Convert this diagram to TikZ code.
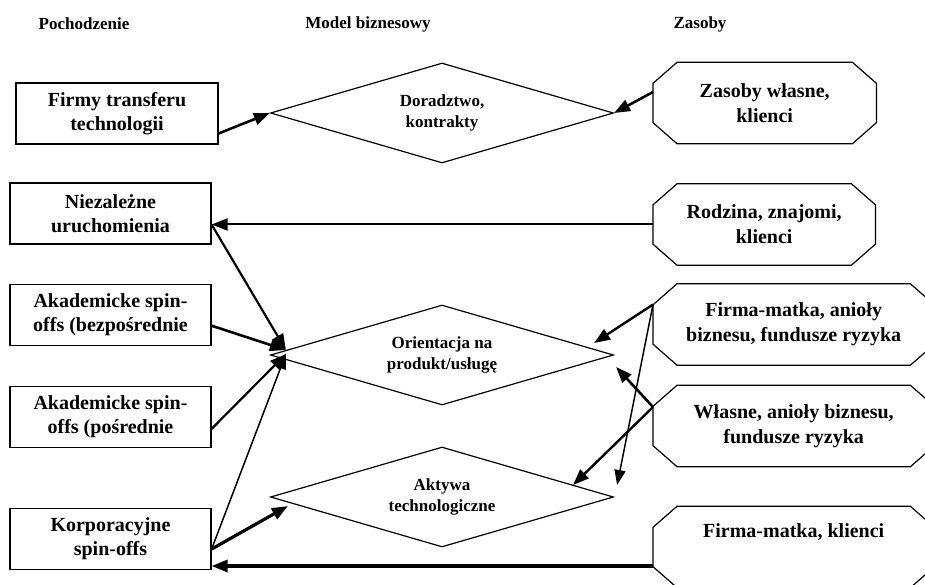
\documentclass[tikz,border=0pt]{standalone}
\usepackage{fontspec}
\setmainfont{Liberation Serif}
\usetikzlibrary{shapes.geometric,arrows.meta,positioning}

% octagonal outline round a resource node
\newcommand\chamferbox[1]{%
  \draw[line width=1.2pt] ([xshift=24pt]#1.north west) -- ([xshift=-24pt]#1.north east)
    -- ([yshift=-21pt]#1.north east) -- ([yshift=21pt]#1.south east)
    -- ([xshift=-24pt]#1.south east) -- ([xshift=24pt]#1.south west)
    -- ([yshift=21pt]#1.south west) -- ([yshift=-21pt]#1.north west) -- cycle;}

\begin{document}
\begin{tikzpicture}[x=1pt, y=-1pt, node distance=39pt,
        header/.style={font=\fontsize{17}{20}\selectfont\bfseries},
        origin/.style={rectangle, draw, line width=1.2pt, minimum width=201pt, minimum height=61pt, inner sep=0pt, align=center, font=\fontsize{20}{24}\selectfont\bfseries},
        model/.style={diamond, aspect=3.43, draw, line width=1.2pt, minimum width=343pt, minimum height=100pt, inner sep=0pt, align=center, font=\fontsize{17}{21}\selectfont\bfseries},
        resource/.style={rectangle, minimum height=81pt, inner sep=0pt, align=center, anchor=west, font=\fontsize{20}{25}\selectfont\bfseries},
        arrow/.style={-{Triangle[length=16pt, width=12pt]}, line width=2.6pt},
        thinarrow/.style={-{Triangle[length=15pt, width=11pt]}, line width=1.5pt}]

        \path[use as bounding box] (0,0) rectangle (925,585);
        \clip (0,0) rectangle (925,585);

        % column titles
        \node[header] (hpoch) at (84,24) {Pochodzenie};
        \node[header] (hmodel) at (368,24) {Model biznesowy};
        \node[header] (hzas) at (700,24) {Zasoby};

        % origin of the firm
        \node[origin, minimum width=202pt] (firmy) at (117,113.5) {Firmy transferu\\technologii};
        \node[origin] (niezal) at (110.5,213.5) {Niezależne\\uruchomienia};
        \node[origin, below=of niezal] (akadb) {Akademicke spin-\\offs (bezpośrednie};
        \node[origin, below=40pt of akadb] (akadp) {Akademicke spin-\\offs (pośrednie};
        \node[origin, below=60pt of akadp] (korp) {Korporacyjne\\spin-offs};

        % business model
        \node[model] (dorad) at (442,113) {Doradztwo,\\kontrakty};
        \node[model] (orient) at (442,355) {Orientacja na\\produkt/usługę};
        \node[model] (aktywa) at (442,497) {Aktywa\\technologiczne};

        % resources
        \node[resource, minimum width=223pt] (zasoby) at (653,103) {Zasoby własne,\\klienci};
        \node[resource, minimum width=222pt] (rodzina) at (653,224.5) {Rodzina, znajomi,\\klienci};
        \node[resource, minimum width=281pt] (firmaa) at (653,324.5) {Firma-matka, anioły\\biznesu, fundusze ryzyka};
        \node[resource, minimum width=281pt] (wlasne) at (653,426) {Własne, anioły biznesu,\\fundusze ryzyka};
        \node[resource, minimum width=281pt] (firmak) at (653,547) {Firma-matka, klienci\\\strut};
        \chamferbox{zasoby}
        \chamferbox{rodzina}
        \chamferbox{firmaa}
        \chamferbox{wlasne}
        \chamferbox{firmak}

        \coordinate (hub) at ([xshift=16pt,yshift=5pt]orient.west);

        \draw[arrow] ([yshift=-20pt]firmy.east) -- (dorad.west);
        \draw[arrow] ([yshift=11pt]zasoby.west) -- (dorad.east);
        \draw[arrow, line width=2pt] (rodzina.west) -- (rodzina.west -| niezal.east);
        \draw[arrow, line width=2.2pt] (rodzina.west -| niezal.east) -- (hub);
        \draw[arrow] ([yshift=-11pt]akadb.east) -- (hub);
        \draw[arrow, line width=2.2pt] ([yshift=-12pt]akadp.east) -- ([yshift=-4pt]hub);
        \draw[thinarrow] ([yshift=-10pt]korp.east) -- ([yshift=-4pt]hub);
        \draw[arrow, line width=3.2pt] ([yshift=-10pt]korp.east) -- ([xshift=18pt,yshift=-9pt]aktywa.west);
        \draw[arrow, line width=3.2pt] ([yshift=-19pt]firmak.west) -- ([yshift=-19pt]firmak.west -| korp.east);
        \draw[arrow, line width=2.4pt] ([yshift=20pt]firmaa.west) -- ([xshift=-20pt,yshift=12pt]orient.east);
        \draw[thinarrow] ([yshift=20pt]firmaa.west) -- ([xshift=3pt,yshift=12pt]aktywa.east);
        \draw[arrow] ([yshift=19pt]wlasne.west) -- ([xshift=2pt,yshift=-12pt]orient.east);
        \draw[arrow, line width=2.4pt] ([yshift=19pt]wlasne.west) -- ([xshift=-41pt,yshift=12pt]aktywa.east);
    \end{tikzpicture}
\end{document}
